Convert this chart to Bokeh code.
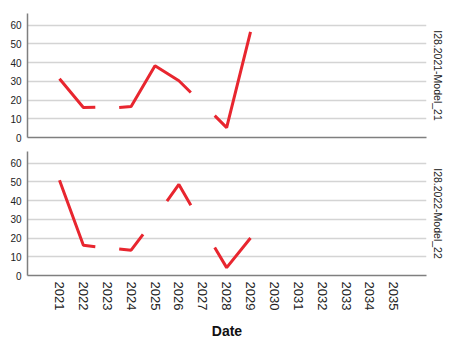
import math
from bokeh.plotting import figure
from bokeh.layouts import column
from bokeh.models import LinearAxis, FixedTicker, Range1d
from bokeh.embed import file_html
from bokeh.resources import INLINE

nan = float("nan")
years = list(range(2021, 2036))
top_dates = [2021, 2022, 2022.5, nan, 2023.5, 2024, 2025, 2026, 2026.5, nan, 2027.5, 2028, 2029]
top_vals = [31.4, 16.0, 16.2, nan, 16.0, 16.5, 38.3, 30.3, 24.0, nan, 11.7, 5.3, 56.4]
bot_dates = [2021, 2022, 2022.5, nan, 2023.5, 2024, 2024.5, nan, 2025.5, 2026, 2026.5, nan, 2027.5, 2028, 2029]
bot_vals = [50.8, 16.1, 15.4, nan, 14.2, 13.5, 22.0, nan, 39.7, 48.6, 37.5, nan, 15.0, 4.2, 20.0]
panel_labels = ["I28.2021-Model_21", "I28.2022-Model_22"]
y_ticks = [0, 10, 20, 30, 40, 50, 60]

FONT = "Liberation Sans"
RED = "#e8262f"
GRID = "#d4d4d4"
AXIS = "#7f7f7f"

x_range = Range1d(2019.66, 2036.37)


def make_panel(xs, ys, label, bottom, height, border_top, border_bottom):
    p = figure(width=457, height=height, output_backend="svg", toolbar_location=None,
               x_range=x_range, y_range=Range1d(0, 66.2),
               min_border_left=27, min_border_right=31,
               min_border_top=border_top, min_border_bottom=border_bottom,
               x_axis_location="below")
    p.outline_line_color = None
    p.background_fill_color = "white"
    p.border_fill_color = "white"
    p.line(x=xs, y=ys, line_color=RED, line_width=3)

    p.xgrid.visible = False
    p.ygrid.ticker = FixedTicker(ticks=y_ticks)
    p.ygrid.grid_line_color = GRID
    p.ygrid.grid_line_width = 1.5

    ya = p.yaxis[0]
    ya.ticker = FixedTicker(ticks=y_ticks)
    ya.major_tick_out = 0
    ya.major_tick_in = 0
    ya.minor_tick_out = 0
    ya.minor_tick_in = 0
    ya.axis_line_color = AXIS
    ya.axis_line_width = 1.5
    ya.major_label_text_font = FONT
    ya.major_label_text_font_size = "10px"
    ya.major_label_text_color = "#222222"
    ya.major_label_standoff = 6

    xa = p.xaxis[0]
    xa.major_tick_out = 0
    xa.major_tick_in = 0
    xa.minor_tick_out = 0
    xa.minor_tick_in = 0
    xa.axis_line_color = AXIS
    xa.axis_line_width = 1.5
    if bottom:
        xa.ticker = FixedTicker(ticks=years)
        xa.major_label_text_font = FONT
        xa.major_label_text_font_size = "13px"
        xa.major_label_text_color = "#222222"
        xa.major_label_orientation = -math.pi / 2
        xa.major_label_standoff = 6
        xa.axis_label = "Date"
        xa.axis_label_text_font = FONT
        xa.axis_label_text_font_size = "14px"
        xa.axis_label_text_font_style = "bold"
        xa.axis_label_text_color = "#111111"
        xa.axis_label_standoff = 10
    else:
        xa.ticker = FixedTicker(ticks=[], minor_ticks=[])
        xa.major_label_standoff = 0

    ra = LinearAxis(axis_label=label)
    ra.ticker = FixedTicker(ticks=[], minor_ticks=[])
    ra.major_tick_out = 0
    ra.minor_tick_out = 0
    ra.major_label_standoff = 0
    ra.axis_line_color = None
    ra.axis_label_text_font = FONT
    ra.axis_label_text_font_size = "10.5px"
    ra.axis_label_text_font_style = "normal"
    ra.axis_label_text_color = "#222222"
    ra.axis_label_standoff = 5
    p.add_layout(ra, "right")
    return p


p1 = make_panel(top_dates, top_vals, panel_labels[0], False, 144, 13, 7)
p2 = make_panel(bot_dates, bot_vals, panel_labels[1], True, 198, 7, 67)

layout = column(p1, p2, spacing=0)
open("out.html", "w").write(file_html(layout, INLINE))
